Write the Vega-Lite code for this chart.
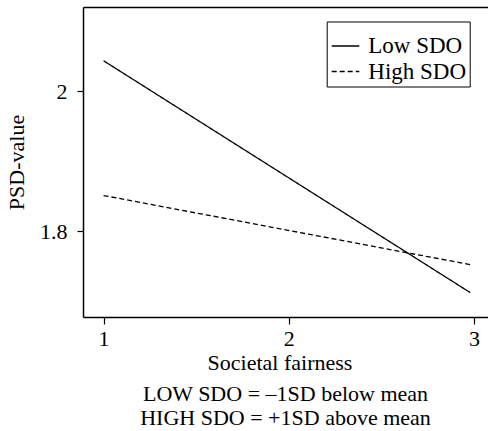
{
  "$schema": "https://vega.github.io/schema/vega-lite/v6.json",
  "autosize": "none",
  "padding": {"left": 83, "top": 7, "right": 0, "bottom": 114},
  "width": 405,
  "height": 310,
  "background": "white",
  "config": {
    "view": {"stroke": null},
    "font": "Liberation Serif",
    "axis": {
      "labelFont": "Liberation Serif",
      "titleFont": "Liberation Serif",
      "labelFontSize": 22,
      "titleFontSize": 22,
      "titleFontWeight": "normal",
      "labelColor": "black",
      "titleColor": "black",
      "domainColor": "black",
      "tickColor": "black",
      "domainWidth": 1.5,
      "tickWidth": 1.2,
      "grid": false
    },
    "legend": {
      "labelFont": "Liberation Serif",
      "labelFontSize": 23,
      "labelColor": "black"
    },
    "title": {"font": "Liberation Serif"}
  },
  "title": {
    "text": ["LOW SDO = –1SD below mean", "HIGH SDO = +1SD above mean"],
    "orient": "bottom",
    "anchor": "middle",
    "font": "Liberation Serif",
    "fontSize": 22,
    "fontWeight": "normal",
    "color": "black",
    "lineHeight": 24,
    "offset": 11
  },
  "data": {
    "values": [
      {"fairness": 1, "psd": 2.044, "group": "Low SDO"},
      {"fairness": 2.98, "psd": 1.712, "group": "Low SDO"},
      {"fairness": 1, "psd": 1.851, "group": "High SDO"},
      {"fairness": 2.98, "psd": 1.752, "group": "High SDO"}
    ]
  },
  "resolve": {"axis": {"x": "independent"}},
  "layer": [
    {
      "mark": {"type": "line", "color": "black", "strokeWidth": 1.3},
      "encoding": {
        "x": {
          "field": "fairness", "type": "quantitative",
          "scale": {"domain": [0.889, 3.076], "nice": false, "zero": false},
          "axis": {
            "orient": "bottom", "values": [1, 2, 3], "title": "Societal fairness",
            "tickSize": 7, "labelPadding": 4, "titlePadding": 3,
            "titleX": 196.5, "titleAlign": "center", "titleAnchor": null
          }
        },
        "y": {
          "field": "psd", "type": "quantitative",
          "scale": {"domain": [1.677, 2.121], "nice": false, "zero": false},
          "axis": {
            "values": [1.8, 2], "format": "~g", "title": "PSD-value",
            "tickSize": 6, "labelPadding": 10, "titlePadding": 11.5
          }
        },
        "strokeDash": {
          "field": "group", "type": "nominal",
          "scale": {"domain": ["Low SDO", "High SDO"], "range": [[1, 0], [5, 3]]},
          "legend": {
            "title": " ",
            "titleFontSize": 8,
            "titlePadding": 1.5,
            "orient": "none",
            "legendX": 243.7,
            "legendY": 14.5,
            "strokeColor": "black",
            "fillColor": "white",
            "padding": 3,
            "symbolType": "M-0.909,0H1.6",
            "symbolSize": 484,
            "symbolStrokeWidth": 1.3,
            "symbolStrokeColor": "black",
            "labelFont": "Liberation Serif",
            "labelFontSize": 23,
            "labelOffset": 14.6,
            "rowPadding": 1.5
          }
        }
      }
    },
    {
      "mark": {"type": "line", "opacity": 0},
      "encoding": {
        "x": {
          "field": "fairness", "type": "quantitative",
          "axis": {"orient": "top", "labels": false, "ticks": false, "title": null, "domain": true}
        },
        "y": {"field": "psd", "type": "quantitative"},
        "detail": {"field": "group", "type": "nominal"}
      }
    }
  ]
}
